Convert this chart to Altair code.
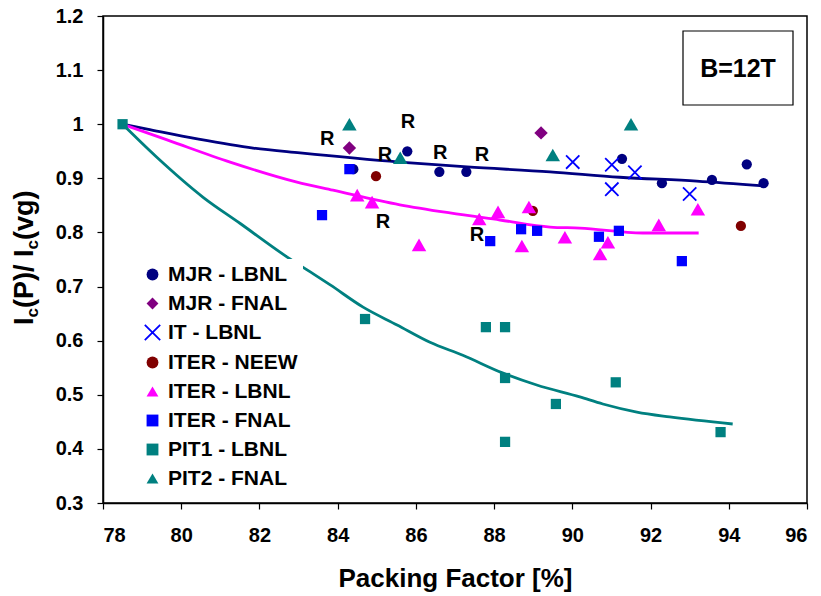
import altair as alt
import pandas as pd

FONT = "Liberation Sans"

series_names = ["MJR - LBNL", "MJR - FNAL", "IT - LBNL", "ITER - NEEW",
                "ITER - LBNL", "ITER - FNAL", "PIT1 - LBNL", "PIT2 - FNAL"]
fill_colors = ["#000080", "#800080", "transparent", "#800000",
               "#FF00FF", "#0000FF", "#008080", "#008080"]
stroke_colors = ["transparent", "transparent", "#0000FF", "transparent",
                 "transparent", "transparent", "transparent", "transparent"]
shapes = ["circle", "diamond", "M-1.3,-1.3L1.3,1.3M-1.3,1.3L1.3,-1.3", "circle",
          "triangle-up", "square", "square", "triangle-up"]
marker_sizes = [105, 180, 105, 105, 210, 105, 105, 210]

# data points
mjr_lbnl_x = [84.40, 85.78, 86.60, 87.29, 91.27, 92.29, 93.57, 94.46, 94.89]
mjr_lbnl_y = [0.917, 0.950, 0.912, 0.912, 0.936, 0.891, 0.897, 0.926, 0.891]
mjr_fnal_x = [84.30, 89.20]
mjr_fnal_y = [0.956, 0.984]
it_lbnl_x = [90.01, 91.01, 91.01, 91.60, 93.00]
it_lbnl_y = [0.930, 0.925, 0.880, 0.911, 0.871]
iter_neew_x = [84.98, 88.99, 94.31]
iter_neew_y = [0.904, 0.840, 0.812]
iter_lbnl_x = [84.50, 84.88, 86.08, 87.62, 88.10, 88.89, 88.71, 89.81, 90.91, 90.71, 92.21, 93.21]
iter_lbnl_y = [0.869, 0.856, 0.777, 0.825, 0.838, 0.847, 0.775, 0.791, 0.782, 0.760, 0.814, 0.843]
iter_fnal_x = [84.30, 83.60, 87.90, 88.69, 89.10, 90.68, 91.19, 92.80]
iter_fnal_y = [0.917, 0.832, 0.784, 0.806, 0.803, 0.792, 0.803, 0.747]
pit1_lbnl_x = [78.50, 84.70, 87.79, 88.28, 88.28, 88.28, 89.58, 91.11, 93.79]
pit1_lbnl_y = [1.000, 0.640, 0.625, 0.625, 0.531, 0.413, 0.483, 0.523, 0.431]
pit2_fnal_x = [84.30, 85.60, 89.50, 91.50]
pit2_fnal_y = [1.000, 0.938, 0.943, 1.000]

# fit curves
fit_mjr_x = [78.5, 79.13, 80.41, 81.84, 83.04, 85.59, 87.31, 89.43, 91.21, 93.18, 94.89]
fit_mjr_y = [1.0, 0.991, 0.973, 0.956, 0.947, 0.930, 0.921, 0.912, 0.902, 0.895, 0.886]
fit_iter_x = [78.5, 79.64, 81.25, 82.96, 83.88, 85.59, 86.87, 88.15, 89.43, 90.19, 91.80, 93.23]
fit_iter_y = [1.0, 0.971, 0.930, 0.893, 0.878, 0.851, 0.836, 0.823, 0.810, 0.808, 0.799, 0.799]
fit_pit_x = [78.5, 79.39, 80.56, 81.50, 82.70, 83.30, 83.81, 84.65, 85.52, 86.36, 87.20,
             88.23, 89.09, 90.19, 90.78, 91.65, 92.49, 94.10]
fit_pit_y = [1.0, 0.938, 0.865, 0.817, 0.755, 0.727, 0.703, 0.662, 0.629, 0.597, 0.573,
             0.540, 0.518, 0.496, 0.483, 0.468, 0.459, 0.446]

# "R" annotations
r_x = [83.73, 85.80, 85.21, 86.62, 87.69, 85.16, 87.56]
r_y = [0.973, 1.004, 0.943, 0.947, 0.943, 0.819, 0.795]

x_ticks = [78, 80, 82, 84, 86, 88, 90, 92, 94, 96]
y_ticks = [0.3, 0.4, 0.5, 0.6, 0.7, 0.8, 0.9, 1.0, 1.1, 1.2]

all_x = [mjr_lbnl_x, mjr_fnal_x, it_lbnl_x, iter_neew_x, iter_lbnl_x, iter_fnal_x, pit1_lbnl_x, pit2_fnal_x]
all_y = [mjr_lbnl_y, mjr_fnal_y, it_lbnl_y, iter_neew_y, iter_lbnl_y, iter_fnal_y, pit1_lbnl_y, pit2_fnal_y]
rows = []
for i, name in enumerate(series_names):
    for xv, yv in zip(all_x[i], all_y[i]):
        rows.append({"series": name, "order": i, "msize": marker_sizes[i], "x": xv, "y": yv})
pts = pd.DataFrame(rows)

fits = pd.concat([
    pd.DataFrame({"fit": "MJR", "x": fit_mjr_x, "y": fit_mjr_y}),
    pd.DataFrame({"fit": "ITER", "x": fit_iter_x, "y": fit_iter_y}),
    pd.DataFrame({"fit": "PIT", "x": fit_pit_x, "y": fit_pit_y}),
])
rdf = pd.DataFrame({"x": r_x, "y": r_y, "t": ["R"] * len(r_x)})

xscale = alt.Scale(domain=[78, 96], nice=False, zero=False)
yscale = alt.Scale(domain=[0.3, 1.2], nice=False, zero=False)
x_enc = alt.X("x:Q", scale=xscale,
              axis=alt.Axis(values=x_ticks, title="Packing Factor [%]", grid=False,
                            labelPadding=16, titlePadding=20))
y_enc = alt.Y("y:Q", scale=yscale,
              axis=alt.Axis(values=y_ticks, format="~g", title=None, grid=False,
                            labelPadding=14))

lines = alt.Chart(fits).mark_line(strokeWidth=2.8, clip=False, interpolate="monotone").encode(
    x=x_enc, y=y_enc,
    color=alt.Color("fit:N", scale=alt.Scale(domain=["MJR", "ITER", "PIT"],
                                             range=["#000080", "#FF00FF", "#008080"]),
                    legend=None),
    detail="fit:N",
)

points = alt.Chart(pts).mark_point(opacity=1, strokeWidth=1.8).encode(
    x=x_enc, y=y_enc,
    fill=alt.Fill("series:N", scale=alt.Scale(domain=series_names, range=fill_colors), title=None),
    stroke=alt.Stroke("series:N", scale=alt.Scale(domain=series_names, range=stroke_colors), title=None),
    shape=alt.Shape("series:N", scale=alt.Scale(domain=series_names, range=shapes), title=None),
    size=alt.Size("msize:Q", scale=None, legend=None),
    order="order:Q",
)

rtext = alt.Chart(rdf).mark_text(font=FONT, fontSize=20, fontWeight="bold", color="black",
                                 align="center", baseline="middle").encode(
    x=x_enc, y=y_enc, text="t:N")

# B=12T box
box = alt.Chart(pd.DataFrame({"a": [0]})).mark_rect(fill="white", stroke="black", strokeWidth=1.2).encode(
    x=alt.value(580), x2=alt.value(690), y=alt.value(15), y2=alt.value(89))
box_text = alt.Chart(pd.DataFrame({"t": ["B=12T"]})).mark_text(
    font=FONT, fontSize=25, fontWeight="bold", color="black", align="center", baseline="middle").encode(
    x=alt.value(635), y=alt.value(53), text="t:N")

# y-axis title with subscripts
def ypiece(txt, xpos, ypos, size):
    return alt.Chart(pd.DataFrame({"t": [txt]})).mark_text(
        font=FONT, fontSize=size, fontWeight="bold", color="black", angle=270,
        align="left", baseline="middle").encode(x=alt.value(xpos), y=alt.value(ypos), text="t:N")

XT = 25 - 103
XS = 33 - 103
yt = [
    ypiece("I", XT, 325 - 16, 27),
    ypiece("c", XS, 317.5 - 16, 17),
    ypiece("(P)/ ", XT, 308 - 16, 27),
    ypiece("I", XT, 257 - 16, 27),
    ypiece("c", XS, 249.5 - 16, 17),
    ypiece("(vg)", XT, 240 - 16, 27),
]

chart = alt.layer(box, lines, points, rtext, box_text, *yt).properties(
    width=704, height=487,
    padding={"left": 103, "top": 16, "right": 14, "bottom": 93},
    autosize=alt.AutoSizeParams(type="none"),
).configure_view(
    stroke="black", strokeWidth=1.5
).configure_axis(
    labelFont=FONT, labelFontSize=20, labelFontWeight="bold", labelColor="black",
    titleFont=FONT, titleFontSize=26, titleFontWeight="bold", titleColor="black",
    domainColor="black", domainWidth=1.5, tickColor="black", tickWidth=1.2, tickSize=6,
).configure_legend(
    orient="none", legendX=34, legendY=243,
    labelFont=FONT, labelFontSize=21, labelFontWeight="bold", labelColor="black",
    symbolSize=140, symbolStrokeWidth=1.8, rowPadding=7, labelOffset=5,
    fillColor="white", padding=5, labelLimit=300,
)

chart.save("out.html", embed_options={"renderer": "svg", "actions": False})
